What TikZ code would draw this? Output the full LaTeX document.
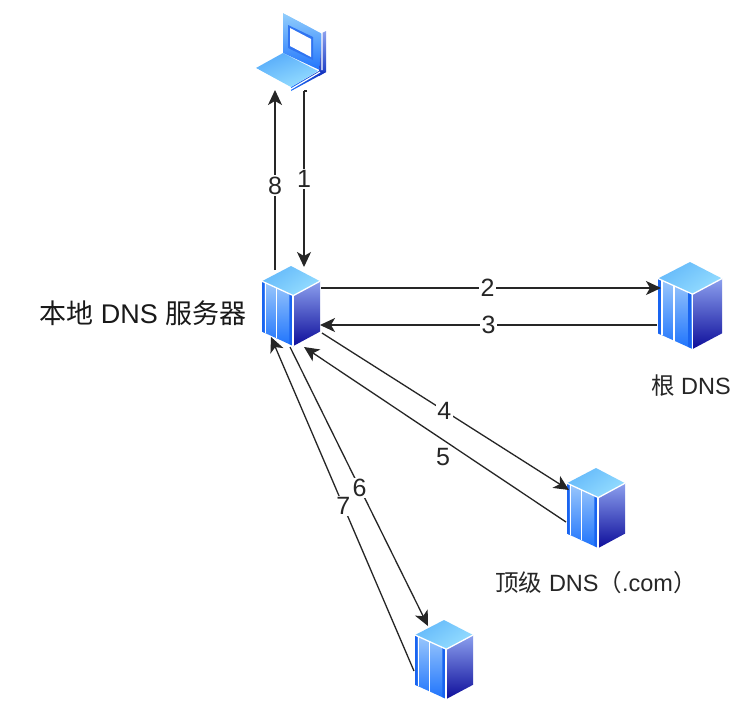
\documentclass[tikz,border=0pt]{standalone}
\usepackage{fontspec}
\setmainfont{Liberation Sans}
\newfontfamily\cjk{Noto Sans CJK SC}
\usetikzlibrary{arrows.meta}
\definecolor{tlight}{RGB}{150,222,255}
\definecolor{tmid}{RGB}{100,185,250}
\definecolor{fronttop}{RGB}{155,200,252}
\definecolor{frontbot}{RGB}{30,115,252}
\definecolor{sidetop}{RGB}{140,160,238}
\definecolor{sidebot}{RGB}{14,14,155}
\definecolor{bluebar}{RGB}{25,100,240}
\tikzset{
  conn/.style={draw=black!85,line width=1.3pt,-{Stealth[length=15pt,width=14pt,inset=4pt]}},
  num/.style={fill=white,inner sep=1.5pt,font=\fontsize{25}{25}\selectfont,text=black!85},
  captext/.style={inner sep=0pt,font=\fontsize{23.5}{26}\selectfont,text=black!85},
  captextb/.style={inner sep=0pt,font=\fontsize{27}{30}\selectfont,text=black!90},
}
% #1 name, #2 x left, #3 y top, #4 width, #5 height
\newcommand{\serverbox}[5]{%
  \begin{scope}[shift={(#2,#3)},x=#4pt,y=-#5pt]
    \shade[left color=tlight,right color=tmid,shading angle=215] (0.5,0) -- (1,0.19) -- (0.54,0.37) -- (0,0.19) -- cycle;
    \shade[top color=fronttop,bottom color=frontbot] (0,0.19) -- (0.54,0.37) -- (0.54,1) -- (0,0.82) -- cycle;
    \shade[top color=sidetop,bottom color=sidebot] (0.54,0.37) -- (1,0.19) -- (1,0.82) -- (0.54,1) -- cycle;
    \fill[bluebar] (0,0.19) -- (0.045,0.205) -- (0.045,0.835) -- (0,0.82) -- cycle;
    \fill[bluebar] (0.47,0.345) -- (0.515,0.36) -- (0.515,0.99) -- (0.47,0.975) -- cycle;
    \draw[white,line width=1.3pt,line join=round] (0,0.19) -- (0.54,0.37) -- (1,0.19);
    \draw[white,line width=1.3pt] (0.535,0.37) -- (0.535,1);
    \draw[white,line width=1.3pt] (0.06,0.21) -- (0.06,0.84);
    \draw[white,line width=1.3pt] (0.25,0.275) -- (0.25,0.905);
    \node[inner sep=0pt,minimum size=0pt] (#1) at (0.5,0.5) {};
  \end{scope}}
\begin{document}
\begin{tikzpicture}[x=1pt,y=-1pt]
\useasboundingbox[fill=white] (0,0) rectangle (743,713);
% laptop
\shade[top color=tmid!70!white,bottom color=frontbot] (283,13) -- (322,33) -- (322,71) -- (283,53) -- cycle;
\shade[top color=sidetop,bottom color=sidebot!60!frontbot] (322,33) -- (326,31) -- (326,72) -- (319,76) -- cycle;
\shade[left color=frontbot,right color=sidebot!70!frontbot] (291,87) -- (319,71) -- (326,72) -- (291,91) -- cycle;
\shade[left color=tlight,right color=tmid!80!frontbot,shading angle=200] (256,68) -- (283,53) -- (318,71) -- (291,87) -- cycle;
\fill[bluebar!90!white] (288,25) -- (313,37) -- (313,60) -- (288,48) -- cycle;
\fill[white] (290,28) -- (311,39) -- (311,57) -- (290,46) -- cycle;
\draw[white,line width=1.2pt] (283,12) -- (322,33) -- (322,70);
\draw[white,line width=1.2pt] (256,69) -- (291,89) -- (320,72);
\node[inner sep=0pt,minimum size=0pt] (laptop) at (290,50) {};
% servers
\serverbox{local}{262}{266}{58}{80}
\serverbox{root}{658}{262}{64}{87}
\serverbox{tld}{567}{468}{58}{80}
\serverbox{auth}{415}{620}{58}{79}
% endpoints
\coordinate (p1a) at (304,91);
\coordinate (p1b) at (304,267);
\coordinate (p8a) at (275,270);
\coordinate (p8b) at (275,90);
\coordinate (p2a) at (321,288);
\coordinate (p2b) at (661,288);
\coordinate (p3a) at (657,325);
\coordinate (p3b) at (320,325);
\coordinate (p4a) at (322,333);
\coordinate (p4b) at (569,490);
\coordinate (p5a) at (566,522);
\coordinate (p5b) at (304,347);
\coordinate (p6a) at (290,347);
\coordinate (p6b) at (428,626);
\coordinate (p7a) at (414,671);
\coordinate (p7b) at (271,337);
% connectors
\draw[draw=black!85,line width=1.3pt] (p1a) ++(3,0) -- (p1a);
\draw[conn] (p1a) -- node[num,pos=0.5] {1} (p1b);
\draw[conn] (p8a) -- node[num,pos=0.47] {8} (p8b);
\draw[conn] (p2a) -- node[num,pos=0.49] {2} (p2b);
\draw[conn] (p3a) -- node[num,pos=0.5] {3} (p3b);
\draw[conn] (p4a) -- node[num,pos=0.495] {4} (p4b);
\draw[conn] (p5a) -- (p5b);
\node[num,fill=none] (n5) at (443,457) {5};
\draw[conn] (p6a) -- node[num,pos=0.505] {6} (p6b);
\draw[conn] (p7a) -- node[num,pos=0.495] {7} (p7b);
% captions
\node[captextb] (lc) at (143,313) {{\cjk 本地} DNS {\cjk 服务器}};
\node[captext] (rc) at (691,386) {{\cjk 根} DNS};
\node[captext] (tc) at (596,583) {{\cjk 顶级} DNS{\cjk （}.com{\cjk ）}};
\end{tikzpicture}
\end{document}
